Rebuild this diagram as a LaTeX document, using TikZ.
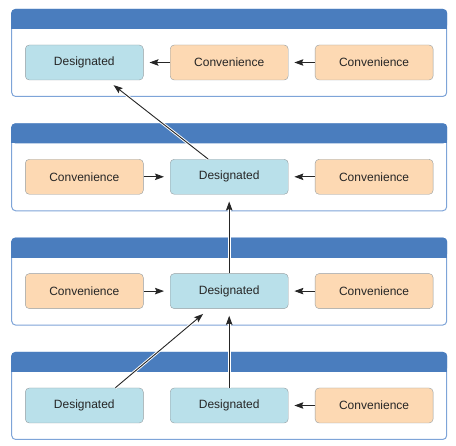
\documentclass[tikz,border=0pt]{standalone}
\usepackage{fontspec}
\setmainfont{Liberation Sans}
\usepackage{tikz}
\usetikzlibrary{arrows.meta, positioning, calc}

\definecolor{hdrblue}{RGB}{74,125,190}
\definecolor{frameblue}{RGB}{126,164,216}
\definecolor{desfill}{RGB}{185,224,234}
\definecolor{convfill}{RGB}{253,217,179}
\definecolor{nodeline}{RGB}{150,158,162}

\begin{document}
\begin{tikzpicture}[
        x=1pt, y=-1pt,
        classbox/.style={draw=frameblue, line width=1pt, fill=white, rounded corners=4pt, minimum width=435pt, minimum height=87pt, inner sep=0pt},
        header/.style={fill=hdrblue},
        desig/.style={rectangle, rounded corners=4pt, draw=nodeline, fill=desfill, minimum width=118pt, minimum height=35pt, inner sep=0pt, font=\fontsize{12}{14}\selectfont, text=black!85},
        conv/.style={desig, fill=convfill},
        arr/.style={-{Stealth[length=9pt, width=6.5pt, inset=1.5pt]}, line width=0.9pt, black!85, shorten >=6pt, preaction={draw=white, line width=2.8pt, -}},
        node distance=26.5pt
    ]
        \useasboundingbox (0,0) rectangle (456,446);

        \node[classbox] (cb1) at (229.2,53) {};
        \node[classbox] (cb2) at (229.2,167.3) {};
        \node[classbox] (cb3) at (229.2,281.6) {};
        \node[classbox] (cb4) at (229.2,396) {};
        \foreach \b in {cb1,cb2,cb3,cb4} {
            \fill[header, rounded corners=4pt] (\b.north west) rectangle ([yshift=-20pt]\b.north east);
            \fill[header] ([yshift=-10pt]\b.north west) rectangle ([yshift=-20pt]\b.north east);
        }

        \node[desig] (d1) at (84.3,62.5) {Designated};
        \node[conv, right=of d1] (c1a) {Convenience};
        \node[conv, right=of c1a] (c1b) {Convenience};

        \node[conv] (c2a) at (84.3,176.8) {Convenience};
        \node[desig, right=of c2a] (d2) {Designated};
        \node[conv, right=of d2] (c2b) {Convenience};

        \node[conv] (c3a) at (84.3,291.1) {Convenience};
        \node[desig, right=of c3a] (d3) {Designated};
        \node[conv, right=of d3] (c3b) {Convenience};

        \node[desig] (d4a) at (84.3,405.5) {Designated};
        \node[desig, right=of d4a] (d4b) {Designated};
        \node[conv, right=of d4b] (c4) {Convenience};

        \draw[arr] (c1a) -- (d1);
        \draw[arr] (c1b) -- (c1a);
        \draw[arr] (c2a) -- (d2);
        \draw[arr] (c2b) -- (d2);
        \draw[arr] (c3a) -- (d3);
        \draw[arr] (c3b) -- (d3);
        \draw[arr] (c4) -- (d4b);

        \draw[arr, shorten >=7pt] (d4b) -- (d3);
        \draw[arr, shorten >=7pt] (d3) -- (d2);
        \draw[arr, shorten >=8pt] ([xshift=31pt]d4a.north) -- ([xshift=-20pt]d3.south);
        \draw[arr, shorten >=8pt] ([xshift=-21pt]d2.north) -- ([xshift=23pt]d1.south);
    \end{tikzpicture}
\end{document}
